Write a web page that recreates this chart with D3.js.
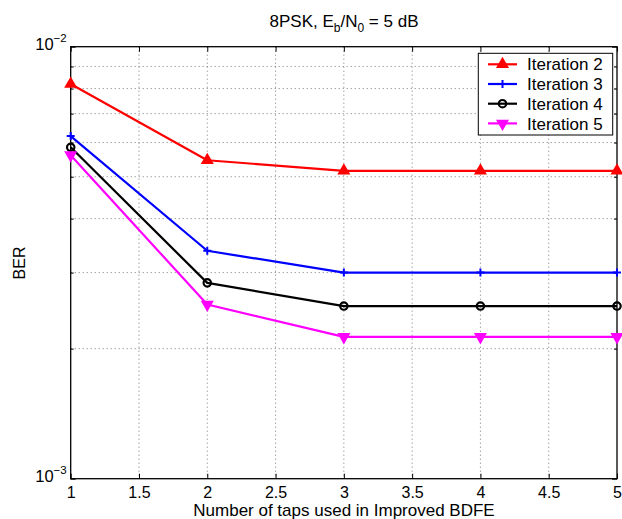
<!DOCTYPE html>
<html>
<head>
<meta charset="utf-8">
<script src="https://cdn.jsdelivr.net/npm/d3@7.9.0/dist/d3.min.js"></script>
<style>
  body { margin: 0; background: #fff; }
  svg { font-family: "Liberation Sans", Arial, Helvetica, sans-serif; }
  .tick line { stroke: #000; }
  .grid line { stroke: #7a7a7a; stroke-width: 1; stroke-dasharray: 1,3; }
</style>
</head>
<body>
<div id="chart"></div>
<script>
const taps = [1, 2, 3, 4, 5];
const iter2 = [8.2e-3, 5.46e-3, 5.16e-3, 5.16e-3, 5.16e-3];
const iter3 = [6.21e-3, 3.37e-3, 3.0e-3, 3.0e-3, 3.0e-3];
const iter4 = [5.85e-3, 2.84e-3, 2.51e-3, 2.51e-3, 2.51e-3];
const iter5 = [5.61e-3, 2.53e-3, 2.13e-3, 2.13e-3, 2.13e-3];
const seriesNames = ["Iteration 2", "Iteration 3", "Iteration 4", "Iteration 5"];
const xTicks = [1, 1.5, 2, 2.5, 3, 3.5, 4, 4.5, 5];
const yMajor = [1e-3, 1e-2];
const yMinor = [2e-3, 3e-3, 4e-3, 5e-3, 6e-3, 7e-3, 8e-3, 9e-3];

const series = [
  { name: seriesNames[0], values: iter2, color: "#ff0000", marker: "up" },
  { name: seriesNames[1], values: iter3, color: "#0000ff", marker: "plus" },
  { name: seriesNames[2], values: iter4, color: "#000000", marker: "circle" },
  { name: seriesNames[3], values: iter5, color: "#ff00ff", marker: "down" },
];

const width = 622, height = 519;
const area = { left: 70.7, right: 617, top: 46.7, bottom: 478.7 };

const svg = d3.select("#chart").append("svg")
  .attr("width", width).attr("height", height);

const x = d3.scaleLinear().domain([1, 5]).range([area.left, area.right]);
const y = d3.scaleLog().domain([1e-3, 1e-2]).range([area.bottom, area.top]);

// grid
const grid = svg.append("g").attr("class", "grid");
grid.selectAll(".gx").data(xTicks.slice(1, -1)).join("line")
  .attr("x1", d => x(d)).attr("x2", d => x(d))
  .attr("y1", area.top).attr("y2", area.bottom);
grid.selectAll(".gy").data(yMinor).join("line")
  .attr("y1", d => y(d)).attr("y2", d => y(d))
  .attr("x1", area.left).attr("x2", area.right);

// axes (ticks pointing inward, matlab style)
const xb = svg.append("g").attr("transform", `translate(0,${area.bottom})`)
  .call(d3.axisBottom(x).tickValues(xTicks).tickSize(-5).tickPadding(8).tickFormat(d3.format("")));
xb.selectAll("text").attr("font-size", 16).attr("fill", "#000").attr("font-family", null);
svg.append("g").attr("transform", `translate(0,${area.top})`)
  .call(d3.axisTop(x).tickValues(xTicks).tickSize(-5).tickFormat(""));

const yl = svg.append("g").attr("transform", `translate(${area.left},0)`)
  .call(d3.axisLeft(y).tickValues(yMajor).tickSize(-5).tickPadding(4).tickFormat(""));
svg.append("g").attr("transform", `translate(${area.left},0)`)
  .call(d3.axisLeft(y).tickValues(yMinor).tickSize(-3).tickFormat(""));
svg.append("g").attr("transform", `translate(${area.right},0)`)
  .call(d3.axisRight(y).tickValues(yMajor).tickSize(-5).tickFormat(""));
svg.append("g").attr("transform", `translate(${area.right},0)`)
  .call(d3.axisRight(y).tickValues(yMinor).tickSize(-3).tickFormat(""));
svg.selectAll(".domain").remove();

yl.selectAll(".tick text").each(function (d) {
  const t = d3.select(this).attr("font-family", null).attr("fill", "#000");
  t.append("tspan").attr("font-size", 16.5).text("10");
  t.append("tspan").attr("font-size", 11.5).attr("dy", "-0.7em")
    .text("\u2212" + Math.round(-Math.log10(d)));
});

svg.append("rect")
  .attr("x", area.left).attr("y", area.top)
  .attr("width", area.right - area.left).attr("height", area.bottom - area.top)
  .attr("fill", "none").attr("stroke", "#000").attr("stroke-width", 1.3);

// markers
function drawMarker(g, type, color) {
  if (type === "up" || type === "down") {
    g.append("path")
      .attr("d", d3.symbol(d3.symbolTriangle, 40)())
      .attr("transform", type === "down" ? "rotate(180)" : null)
      .attr("fill", color).attr("stroke", color).attr("stroke-width", 2)
      .attr("stroke-linejoin", "miter");
  } else if (type === "circle") {
    g.append("circle").attr("r", 3.7)
      .attr("fill", "none").attr("stroke", color).attr("stroke-width", 2.2);
  } else {
    g.append("path").attr("d", "M-4,0H4M0,-4V4")
      .attr("stroke", color).attr("stroke-width", 2);
  }
}

const line = d3.line().x((d, i) => x(taps[i])).y(d => y(d));

series.forEach(s => {
  svg.append("path").datum(s.values)
    .attr("d", line).attr("fill", "none")
    .attr("stroke", s.color).attr("stroke-width", 2.2).attr("stroke-linejoin", "round");
  s.values.forEach((v, i) => {
    const g = svg.append("g").attr("transform", `translate(${x(taps[i])},${y(v)})`);
    drawMarker(g, s.marker, s.color);
  });
});

// legend
const lg = svg.append("g");
lg.append("rect").attr("x", 478.3).attr("y", 53.3).attr("width", 134.4).attr("height", 81.7)
  .attr("fill", "#fff").attr("stroke", "#000").attr("stroke-width", 1);
series.forEach((s, i) => {
  const cy = 64.3 + i * 19.7;
  lg.append("line").attr("x1", 488).attr("x2", 517).attr("y1", cy).attr("y2", cy)
    .attr("stroke", s.color).attr("stroke-width", 2.2);
  const g = lg.append("g").attr("transform", `translate(502.5,${cy})`);
  drawMarker(g, s.marker, s.color);
  lg.append("text").attr("x", 527).attr("y", cy).attr("dy", "0.36em")
    .attr("font-size", 17).text(s.name);
});

// title
const title = svg.append("text").attr("x", 344).attr("y", 27)
  .attr("text-anchor", "middle").attr("font-size", 17);
title.append("tspan").text("8PSK, E");
title.append("tspan").attr("font-size", 12).attr("dy", 5).text("b");
title.append("tspan").attr("dy", -5).text("/N");
title.append("tspan").attr("font-size", 12).attr("dy", 5).text("0");
title.append("tspan").attr("dy", -5).text(" = 5 dB");

svg.append("text").attr("x", 344).attr("y", 516)
  .attr("text-anchor", "middle").attr("font-size", 17)
  .text("Number of taps used in Improved BDFE");

svg.append("text").attr("transform", "translate(25,263) rotate(-90)")
  .attr("text-anchor", "middle").attr("font-size", 16).text("BER");
</script>
</body>
</html>
